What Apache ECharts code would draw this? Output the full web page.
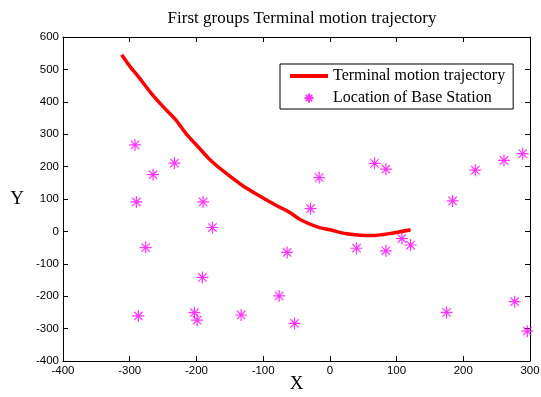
<!DOCTYPE html>
<html><head><meta charset="utf-8">
<script src="https://cdn.jsdelivr.net/npm/echarts@6/dist/echarts.min.js"></script>
<style>html,body{margin:0;padding:0;background:#fff}#c{width:541px;height:397px}</style>
</head><body><div id="c"></div>
<script>
const trajX = [-312, -300, -288, -268, -250, -231, -215, -198, -180, -159, -130, -104, -80, -60, -44, -19, 0, 25, 62, 95, 121];
const trajY = [545, 510, 480, 427, 385, 344, 300, 262, 222, 185, 140, 108, 80, 58, 36, 14, 5, -7, -13, -5, 5];
const bsX = [-292, -265, -233, -290, -190, -176, -276, -64, -191, -76, -287, -203, -199, -133, -53, -16, 67, 84, -29, 184, 218, 261, 289, 40, 84, 108, 121, 175, 277, 296];
const bsY = [267, 175, 211, 91, 91, 12, -50, -65, -142, -199, -261, -251, -274, -258, -284, 166, 210, 192, 70, 94, 189, 219, 240, -52, -60, -22, -42, -250, -217, -308];
const xTicks = [-400, -300, -200, -100, 0, 100, 200, 300];
const yTicks = [-400, -300, -200, -100, 0, 100, 200, 300, 400, 500, 600];

const star = 'path://M0,-6L0,6M-6,0L6,0M-4.2,-4.2L4.2,4.2M-4.2,4.2L4.2,-4.2';
const chart = echarts.init(document.getElementById('c'));
const tickFont = {fontFamily: 'Liberation Sans, Arial', fontSize: 11.5, color: '#000'};
const axisLine = {show: true, onZero: false, lineStyle: {color: '#000', width: 1}};
const axisTick = {show: true, inside: true, length: 5, lineStyle: {color: '#000'}};
chart.setOption({
  animation: false,
  backgroundColor: '#fff',
  title: {text: 'First groups Terminal motion trajectory', left: 297, top: 5, textAlign: 'center',
    textStyle: {fontFamily: 'Liberation Serif, Times New Roman', fontSize: 17, fontWeight: 'normal', color: '#000'}},
  grid: {left: 63, right: 11, top: 37, bottom: 36, containLabel: false, outerBoundsMode: 'none'},
  legend: {
    left: 280, top: 64, orient: 'vertical', itemGap: 6, padding: [4, 8, 3, 8],
    borderColor: '#000', borderWidth: 1, backgroundColor: '#fff',
    itemWidth: 38, itemHeight: 9,
    textStyle: {fontFamily: 'Liberation Serif, Times New Roman', fontSize: 16, color: '#000'},
    data: [
      {name: 'Terminal motion trajectory', itemStyle: {opacity: 0}, lineStyle: {width: 4}},
      {name: 'Location of Base Station'}
    ]
  },
  xAxis: [
    {type: 'value', min: xTicks[0], max: xTicks[xTicks.length - 1], interval: 100, position: 'bottom',
     name: 'X', nameLocation: 'middle', nameGap: 14, nameMoveOverlap: false,
     nameTextStyle: {fontFamily: 'Liberation Serif, Times New Roman', fontSize: 19, color: '#000'},
     axisLine, axisTick, axisLabel: Object.assign({margin: 4}, tickFont), splitLine: {show: false}},
    {type: 'value', min: xTicks[0], max: xTicks[xTicks.length - 1], interval: 100, position: 'top',
     axisLine, axisTick, axisLabel: {show: false}, splitLine: {show: false}}
  ],
  yAxis: [
    {type: 'value', min: yTicks[0], max: yTicks[yTicks.length - 1], interval: 100, position: 'left',
     name: 'Y', nameLocation: 'middle', nameGap: 39, nameRotate: 0, nameMoveOverlap: false,
     nameTextStyle: {fontFamily: 'Liberation Serif, Times New Roman', fontSize: 19, color: '#000'},
     axisLine, axisTick, axisLabel: Object.assign({margin: 4}, tickFont), splitLine: {show: false}},
    {type: 'value', min: yTicks[0], max: yTicks[yTicks.length - 1], interval: 100, position: 'right',
     axisLine, axisTick, axisLabel: {show: false}, splitLine: {show: false}}
  ],
  series: [
    {name: 'Terminal motion trajectory', type: 'line', xAxisIndex: 0, yAxisIndex: 0,
     data: trajX.map((x, i) => [x, trajY[i]]), showSymbol: false, symbol: 'none', smooth: 0.3,
     lineStyle: {color: '#ff0000', width: 3.5}, itemStyle: {color: '#ff0000'}},
    {name: 'Location of Base Station', type: 'scatter', xAxisIndex: 0, yAxisIndex: 0,
     data: bsX.map((x, i) => [x, bsY[i]]), symbol: star, symbolSize: 12,
     itemStyle: {color: 'rgba(0,0,0,0)', borderColor: '#ff00ff', borderWidth: 1.2}}
  ]
});
</script></body></html>
